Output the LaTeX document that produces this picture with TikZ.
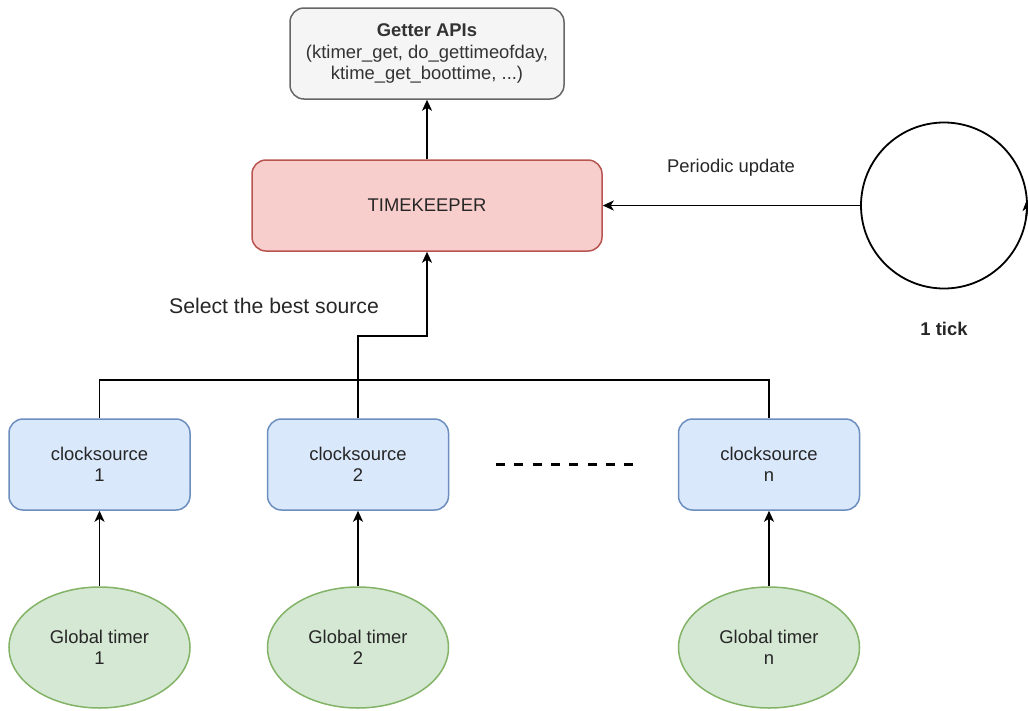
\documentclass[tikz,border=0pt]{standalone}
\usepackage{fontspec}
\setmainfont{Liberation Sans}
\usetikzlibrary{arrows.meta,shapes.geometric}
\definecolor{getfill}{HTML}{F5F5F5}
\definecolor{getdraw}{HTML}{666666}
\definecolor{gettext}{HTML}{333333}
\definecolor{tkfill}{HTML}{F8CECC}
\definecolor{tkdraw}{HTML}{B85450}
\definecolor{csfill}{HTML}{DAE8FC}
\definecolor{csdraw}{HTML}{6C8EBF}
\definecolor{gtfill}{HTML}{D5E8D4}
\definecolor{gtdraw}{HTML}{82B366}
\begin{document}
\begin{tikzpicture}[x=1pt,y=-1pt,
  basefont/.style={font=\fontsize{18.4}{21.5}\selectfont},
  box/.style={basefont, draw, rounded corners=14pt, line width=1.5pt, inner sep=0pt, align=center, minimum height=91pt},
  getbox/.style={box, fill=getfill, draw=getdraw, text=gettext, minimum width=274pt},
  tkbox/.style={box, fill=tkfill, draw=tkdraw, text=black!85, minimum width=350pt},
  csbox/.style={box, fill=csfill, draw=csdraw, text=black!85, minimum width=181pt},
  gtell/.style={basefont, ellipse, draw=gtdraw, fill=gtfill, line width=1.5pt, inner sep=0pt, align=center, minimum width=181pt, minimum height=121pt, text=black!85},
  arr/.style={-{Stealth[length=11pt,width=10pt,inset=3pt]}, line width=1.8pt},
  conn/.style={line width=1.8pt},
  lbl/.style={basefont, text=black!85, inner sep=0pt}
]
\useasboundingbox (0,0) rectangle (1028,710);

\node[getbox] (get) at (427,53.5) {\textbf{Getter APIs}\\(ktimer\_get, do\_gettimeofday,\\ktime\_get\_boottime, ...)};
\node[tkbox] (tk) at (427,205.5) {TIMEKEEPER};

\node[circle, draw, line width=1.8pt, minimum size=166pt, inner sep=0pt] (tick) at (944,205.5) {};
\draw[arr] ([shift={(944,205.5)}] 8:83) arc[start angle=8, end angle=-4, radius=83];

\node[csbox] (cs1) at (99.5,464.5) {clocksource\\1};
\node[csbox] (cs2) at (358,464.5) {clocksource\\2};
\node[csbox] (csn) at (769,464.5) {clocksource\\n};

\node[gtell] (gt1) at (99.5,647.5) {Global timer\\1};
\node[gtell] (gt2) at (358,647.5) {Global timer\\2};
\node[gtell] (gtn) at (769,647.5) {Global timer\\n};

\node[lbl] (lper) at (731,168) {Periodic update};
\node[lbl, font=\fontsize{21.2}{25}\selectfont] (lsel) at (274,306) {Select the best source};
\node[lbl] (ltick) at (944,329) {\textbf{1 tick}};

\draw[arr] (tk.north) -- (get.south);
\draw[arr] (tick.west) -- (tk.east);
\draw[arr] (cs2.north) -- ++(0,-82) -| (tk.south);
\draw[conn] (cs1.north) -- ++(0,-38) -| (csn.north);
\draw[arr] (gt1.north) -- (cs1.south);
\draw[arr] (gt2.north) -- (cs2.south);
\draw[arr] (gtn.north) -- (csn.south);

\coordinate (dotsA) at (496,464);
\coordinate (dotsB) at (633,464);
\draw[line width=3pt, dash pattern=on 9pt off 9.3pt] (dotsA) -- (dotsB);
\end{tikzpicture}
\end{document}
